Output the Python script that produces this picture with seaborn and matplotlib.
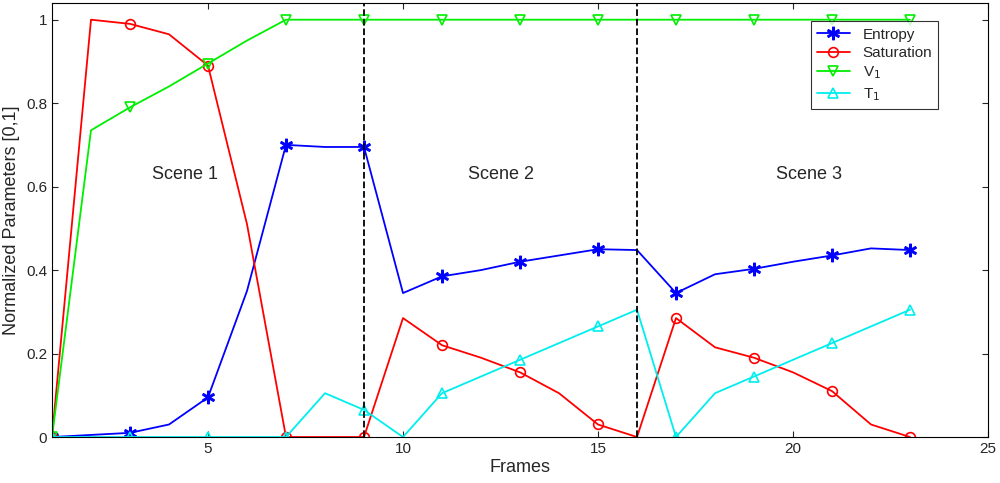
import matplotlib
matplotlib.use("Agg")
import matplotlib.pyplot as plt
import seaborn as sns
import pandas as pd

frames = list(range(1, 24))
entropy = [0, 0.005, 0.01, 0.03, 0.095, 0.35, 0.70, 0.695, 0.695, 0.345, 0.385, 0.40, 0.42, 0.435, 0.45, 0.448, 0.345, 0.39, 0.403, 0.42, 0.435, 0.452, 0.448]
saturation = [0, 1.0, 0.99, 0.965, 0.89, 0.51, 0, 0, 0, 0.285, 0.22, 0.19, 0.155, 0.105, 0.03, 0, 0.285, 0.215, 0.19, 0.155, 0.11, 0.03, 0]
v1 = [0, 0.735, 0.79, 0.84, 0.895, 0.95] + [1.0] * 17
t1 = [0] * 7 + [0.105, 0.065, 0, 0.105, 0.145, 0.185, 0.225, 0.265, 0.305, 0, 0.105, 0.145, 0.185, 0.225, 0.265, 0.305]
scene_bounds = [9, 16]
scenes = [("Scene 1", 4.4, 0.63), ("Scene 2", 12.5, 0.63), ("Scene 3", 20.4, 0.63)]

sns.set_style("white")
plt.rcParams['font.family'] = ['Liberation Sans', 'DejaVu Sans']
fig = plt.figure(figsize=(10, 4.83), dpi=100)
ax = fig.add_axes([0.052, 0.0952, 0.936, 0.8986])

series = [("Entropy", entropy, "#0000ff", "$\\ast$", {}),
          ("Saturation", saturation, "#ff0000", "o", {"markerfacecolor": "none"}),
          ("V$_1$", v1, "#00ee00", "v", {"markerfacecolor": "none"}),
          ("T$_1$", t1, "#00eeee", "^", {"markerfacecolor": "none"})]
for name, vals, col, mk, kw in series:
    df = pd.DataFrame({"Frames": frames, "v": vals})
    sns.lineplot(data=df, x="Frames", y="v", ax=ax, color=col, marker=mk, markevery=2,
                 markersize=9 if name == "Entropy" else 7, markeredgecolor=col,
                 markeredgewidth=1.0 if name == "Entropy" else 1.2, linewidth=1.3, label=name, **kw)

for b in scene_bounds:
    ax.axvline(b, color="black", linestyle="--", linewidth=1.3)
for t, x, y in scenes:
    ax.text(x, y, t, ha="center", va="center", fontsize=13)

ax.set_xlim(1, 25)
ax.set_ylim(0, 1.04)
ax.set_xticks([5, 10, 15, 20, 25])
ax.set_yticks([0, 0.2, 0.4, 0.6, 0.8, 1])
ax.set_yticklabels(["0", "0.2", "0.4", "0.6", "0.8", "1"])
ax.set_xlabel("Frames", fontsize=13, labelpad=2)
ax.set_ylabel("Normalized Parameters [0,1]", fontsize=13)
ax.tick_params(labelsize=11, direction="in", length=4, left=True, bottom=True, top=True, right=True)
for s in ax.spines.values():
    s.set_color("black")
    s.set_linewidth(0.8)
leg = ax.legend(loc="upper right", bbox_to_anchor=(0.955, 0.975), fontsize=11, frameon=True,
                fancybox=False, edgecolor="black", handlelength=2.2, borderpad=0.4, labelspacing=0.3)
leg.get_frame().set_linewidth(0.8)
fig.savefig("out.png", dpi=100)
